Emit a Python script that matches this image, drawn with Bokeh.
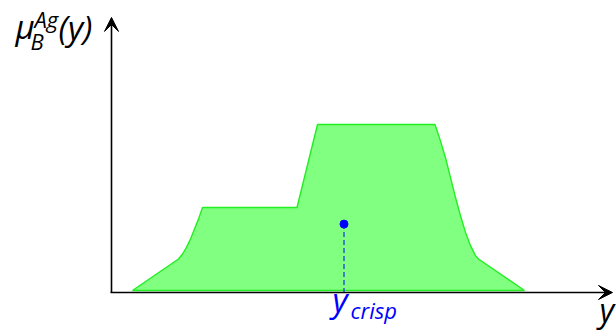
from bokeh.plotting import figure
from bokeh.models import Range1d, Arrow, VeeHead, Label, ColumnDataSource
from bokeh.embed import file_html
from bokeh.resources import INLINE

# Aggregated output fuzzy set: output variable y and its membership mu_B^Ag(y)
y_vals = [0.42, 1.34, 1.42, 1.50, 1.58, 1.66, 1.74, 1.82, 3.71, 4.12,
          6.47, 6.58, 6.68, 6.78, 6.88, 6.98, 7.08, 7.18, 7.28, 7.34, 8.26]
mu_vals = [0.0, 0.19, 0.22, 0.26, 0.31, 0.37, 0.43, 0.50, 0.50, 1.00,
           1.00, 0.90, 0.80, 0.68, 0.56, 0.45, 0.35, 0.27, 0.21, 0.19, 0.0]

# Defuzzified (crisp) output and the membership at that point
y_crisp = [4.65]
mu_crisp = [0.40]

FONT = "Open Sans"
AXIS_Y = -0.012          # axis line sits just below the zero-membership edge
PX_PER_Y = 166.0         # vertical pixels per membership unit
PX_PER_X = 50.0          # horizontal pixels per y unit

p = figure(width=616, height=334,
           x_range=Range1d(-2.22, 10.1), y_range=Range1d(-0.265, 1.747),
           x_axis_type=None, y_axis_type=None,
           toolbar_location=None, output_backend="svg",
           min_border=0, outline_line_color=None)
p.grid.visible = False
p.background_fill_color = "white"
p.border_fill_color = "white"

# Fuzzy set area
src = ColumnDataSource(dict(y=y_vals, mu=mu_vals))
p.patch("y", "mu", source=src, fill_color="#80ff80", line_color="#22ee22", line_width=1.4)

# Axes with arrow heads
p.add_layout(Arrow(end=VeeHead(size=14, fill_color="black", line_color="black", line_width=1),
                   x_start=-0.02, y_start=AXIS_Y, x_end=10.02, y_end=AXIS_Y,
                   line_color="black", line_width=1.6))
p.add_layout(Arrow(end=VeeHead(size=14, fill_color="black", line_color="black", line_width=1),
                   x_start=0, y_start=AXIS_Y, x_end=0, y_end=1.645,
                   line_color="black", line_width=1.6))

# Crisp value: dashed drop line and point
p.segment(x0=y_crisp, y0=mu_crisp, x1=y_crisp, y1=[-0.02],
          line_color="#1f3fe0", line_width=1.3, line_dash="5 3")
p.scatter(y_crisp, mu_crisp, size=8, color="blue")


def lab(px_left, px_base, text, size, color="black"):
    """Place italic text by its left edge and baseline in canvas pixels."""
    x = (px_left - 111) / PX_PER_X
    y = (290 - px_base + 0.39 * size) / PX_PER_Y
    p.add_layout(Label(x=x, y=y, text=text, text_font=FONT, text_font_style="italic",
                       text_font_size=f"{size}px", text_color=color,
                       text_baseline="alphabetic", text_align="left"))


# Axis titles
lab(599, 321, "y", 32)
lab(15, 39, "μ", 33)
lab(30, 49, "B", 22)
lab(34, 27, "Ag", 22)
lab(58, 40, "(y)", 33)

# Crisp label
lab(332, 312, "y", 33, "blue")
lab(350, 318, "crisp", 22, "blue")

open("out.html", "w").write(file_html(p, INLINE))
